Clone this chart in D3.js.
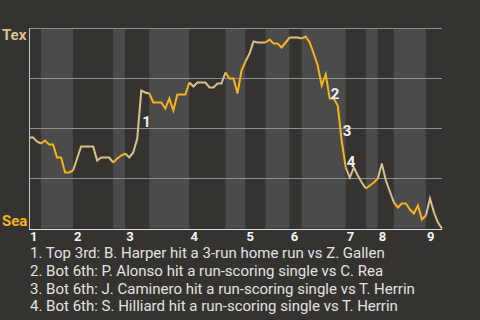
<!DOCTYPE html>
<html>
<head>
<meta charset="utf-8">
<script src="https://cdn.jsdelivr.net/npm/d3@7"></script>
<style>
  body { margin: 0; background: #363430; }
  text { font-family: Roboto, "Noto Sans", sans-serif; }
</style>
</head>
<body>
<div id="chart"></div>
<script>
// plate appearances per half inning (top 1st ... top 9th)
const halfInningEvents = [3, 8, 10, 3, 6, 10, 9, 5, 5, 6, 3, 11, 5, 3, 4, 8, 4];

// Texas win probability (%) after each event
const texWinPct = [
  45.5, 45.5, 43.5, 42.5,
  44, 42, 42, 35.5, 35.5, 28, 28, 29,
  35, 41, 41, 41, 41, 34, 35.5, 35.5, 35.5, 33,
  35, 36.5, 37.5,
  35.5, 38, 45, 69, 68, 67.5,
  63, 63, 63, 60, 65, 59, 67, 67, 67, 73,
  71, 73, 73, 73, 70.5, 70.5, 72.5, 72.5, 78,
  75, 75, 67.5, 79, 83.5,
  87.5, 93.5, 93, 93, 93,
  94.5, 92.5, 92.5, 90.5, 93, 95.5,
  95.5, 95.5, 95,
  96, 93, 87.5, 81.5, 71.5, 77, 65, 65, 61.5, 43.5, 30.5,
  25.5, 30.5, 26.5, 23, 20,
  21.5, 23, 25,
  32.5, 24, 18.5, 13,
  10.5, 12.5, 12.5, 9.5, 7.5, 11.5, 4.5, 6.5,
  15, 8, 3, 0
];

const innings = ["1", "2", "3", "4", "5", "6", "7", "8", "9"];
const teams = ["Tex", "Sea"];
const gridTicks = [25, 50, 75, 100];

const annotations = [
  { index: 28, label: "1" },
  { index: 75, label: "2" },
  { index: 78, label: "3" },
  { index: 79, label: "4" }
];

const notes = [
  "1. Top 3rd: B. Harper hit a 3-run home run vs Z. Gallen",
  "2. Bot 6th: P. Alonso hit a run-scoring single vs C. Rea",
  "3. Bot 6th: J. Caminero hit a run-scoring single vs T. Herrin",
  "4. Bot 6th: S. Hilliard hit a run-scoring single vs T. Herrin"
];

const width = 480, height = 320;
const colors = { tex: "#d8c08e", sea: "#f6b31c", light: "#4b4b4b", dark: "#353330", grid: "#8e8e8e", axis: "#c4c4c4" };

const svg = d3.select("#chart").append("svg")
  .attr("width", width)
  .attr("height", height)
  .style("display", "block")
  .style("background", colors.dark);

const total = d3.sum(halfInningEvents);
const x = d3.scaleLinear().domain([0, total]).range([29, 442]);
const y = d3.scaleLinear().domain([0, 100]).range([228.5, 28.5]);

// half inning boundaries
const bounds = [];
let acc = 0;
halfInningEvents.forEach((n, i) => {
  bounds.push({ start: acc, end: acc + n, top: i % 2 === 0, inning: Math.floor(i / 2) });
  acc += n;
});

svg.append("g")
  .selectAll("rect")
  .data(bounds)
  .join("rect")
  .attr("x", d => x(d.start))
  .attr("width", d => x(d.end) - x(d.start))
  .attr("y", y(100))
  .attr("height", y(0) - y(100))
  .attr("fill", d => d.top ? colors.dark : colors.light);

svg.append("g")
  .selectAll("line")
  .data(gridTicks)
  .join("line")
  .attr("x1", x(0))
  .attr("x2", x(total))
  .attr("y1", d => y(d))
  .attr("y2", d => y(d))
  .attr("stroke", colors.grid)
  .attr("stroke-width", 1);

// axes
svg.append("line")
  .attr("x1", x(0) + 0.5).attr("x2", x(0) + 0.5)
  .attr("y1", y(100)).attr("y2", y(0) + 1)
  .attr("stroke", colors.axis);
svg.append("line")
  .attr("x1", x(0)).attr("x2", x(total))
  .attr("y1", y(0) + 1).attr("y2", y(0) + 1)
  .attr("stroke", "#dddddd");

// win probability line, coloured by batting team
const line = d3.line()
  .x(d => x(d.i))
  .y(d => y(d.v));

svg.append("g")
  .selectAll("path")
  .data(bounds)
  .join("path")
  .attr("d", b => line(d3.range(b.start, b.end + 1).map(i => ({ i, v: texWinPct[i] }))))
  .attr("fill", "none")
  .attr("stroke", b => b.top ? colors.tex : colors.sea)
  .attr("stroke-width", 2)
  .attr("stroke-linejoin", "miter");

// event markers
svg.append("g")
  .selectAll("text")
  .data(annotations)
  .join("text")
  .attr("x", d => x(d.index) + 1)
  .attr("y", d => (y(texWinPct[d.index - 1]) + y(texWinPct[d.index])) / 2 + 12)
  .attr("fill", "#f0f0f0")
  .style("font-size", "15px")
  .style("font-weight", "bold")
  .text(d => d.label);

// team labels
svg.append("text")
  .attr("x", 2).attr("y", y(100) + 11)
  .attr("fill", colors.tex)
  .style("font-size", "15px").style("font-weight", "bold")
  .text(teams[0]);
svg.append("text")
  .attr("x", 2).attr("y", y(0) - 3)
  .attr("fill", colors.sea)
  .style("font-size", "15px").style("font-weight", "bold")
  .text(teams[1]);

// inning labels at start of each top half
svg.append("g")
  .selectAll("text")
  .data(bounds.filter(b => b.top))
  .join("text")
  .attr("x", d => x(d.start) + 1)
  .attr("y", 241)
  .attr("fill", "#f4f4f4")
  .style("font-size", "13px")
  .style("font-weight", "bold")
  .text(d => innings[d.inning]);

svg.append("g")
  .selectAll("text")
  .data(notes)
  .join("text")
  .attr("x", 30)
  .attr("y", (d, i) => 258 + i * 17.8)
  .attr("fill", "#e2e2e2")
  .style("font-size", "15px")
  .text(d => d);
</script>
</body>
</html>
